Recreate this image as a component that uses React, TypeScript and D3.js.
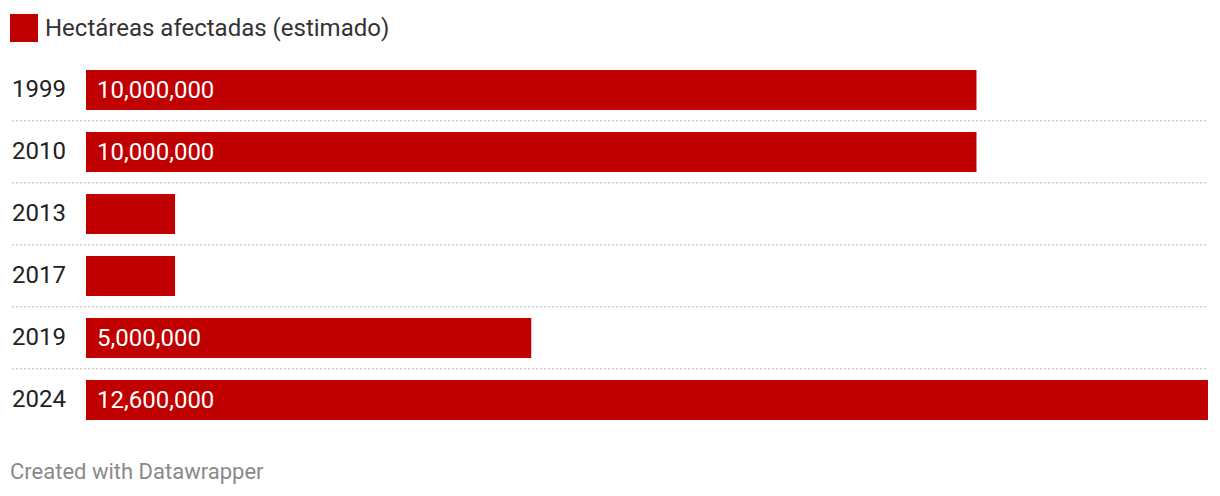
import React from "react";
import * as d3 from "d3";

const years = ["1999", "2010", "2013", "2017", "2019", "2024"];
const hectares = [10000000, 10000000, 1000000, 1000000, 5000000, 12600000];
const showLabel = [true, true, false, false, true, true];
const legendLabel = "Hectáreas afectadas (estimado)";
const footerText = "Created with Datawrapper";

export default function App() {
  const W = 1220;
  const H = 496;
  const x0 = 86;
  const x1 = 1208;
  const x = d3.scaleLinear().domain([0, 12600000]).range([x0, x1]);
  const bw = 40;
  const fmt = d3.format(",");
  const font = "Roboto, sans-serif";
  return (
    <svg width={W} height={H} style={{ position: "absolute", left: 0, top: 0, background: "#fff" }}>
      <rect x={10} y={14} width={28} height={28} fill="#c00000" />
      <text x={45} y={36} fontFamily={font} fontSize={24} fill="#333">{legendLabel}</text>
      {years.map((yr, i) => {
        const by = 70 + i * 62;
        return (
          <g key={yr}>
            {i > 0 && (
              <line x1={12} x2={x1} y1={by - 11.3} y2={by - 11.3} stroke="#d0d0d0" strokeWidth={1.5} strokeDasharray="2 2" />
            )}
            <rect x={x(0)} y={by} width={x(hectares[i]) - x(0)} height={bw} fill="#c00000" />
            <text x={12} y={by + 27} fontFamily={font} fontSize={24} fill="#222">{yr}</text>
            {showLabel[i] && (
              <text x={x(0) + 11} y={by + 27.5} fontFamily={font} fontSize={24} fill="#fff">{fmt(hectares[i])}</text>
            )}
          </g>
        );
      })}
      <text x={10} y={479} fontFamily={font} fontSize={22} fill="#8a8a8a">{footerText}</text>
    </svg>
  );
}
